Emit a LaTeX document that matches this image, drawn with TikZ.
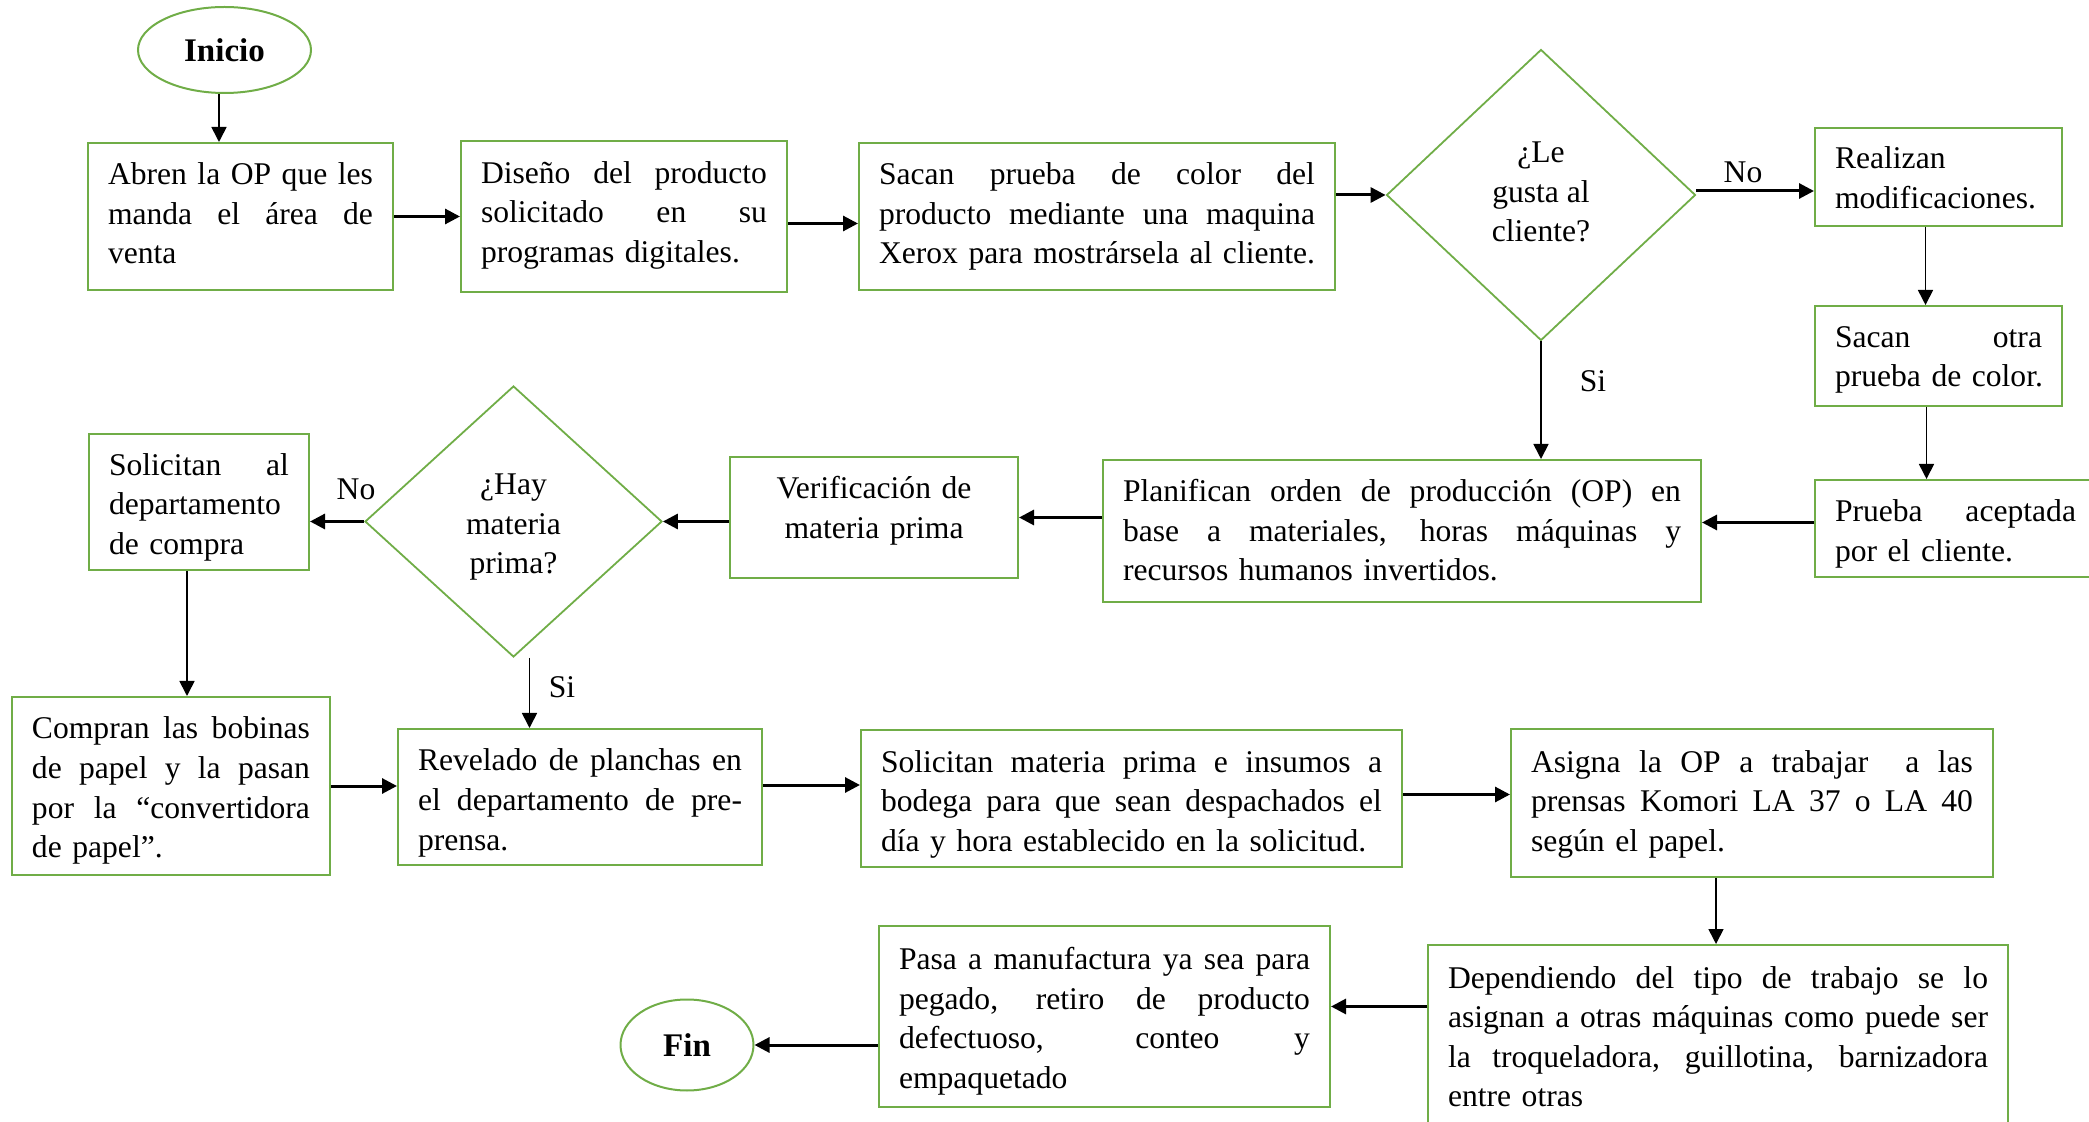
\documentclass[tikz,border=0pt]{standalone}
\usepackage{fontspec}
\setmainfont{Liberation Serif}
\usetikzlibrary{shapes.geometric,arrows.meta,calc}

\definecolor{flowgreen}{RGB}{112,173,71}
\newcommand\bodyfont{\fontsize{15.8pt}{19.8pt}\selectfont}
% one justified line of a box text
\newcommand\jline[1]{\makebox[\hsize][s]{\spaceskip=0pt\xspaceskip=0pt #1}}
% closing line of a box text, set flush left without breaking
\newcommand\lline[1]{\mbox{#1}}

\tikzset{
  box/.style={draw=flowgreen, line width=1pt, rectangle, inner xsep=10pt,
    inner ysep=0pt, font=\bodyfont},
  % vertical placement of the first text line inside a box
  textdrop/.style={text height=0pt, text depth=#1},
  decision/.style={draw=flowgreen, line width=0.9pt, diamond, inner sep=0pt,
    align=center, font=\bodyfont, text depth=0pt},
  terminal/.style={draw=flowgreen, line width=1pt, ellipse, inner sep=0pt,
    font=\fontsize{16.5pt}{20pt}\selectfont\bfseries},
  branch/.style={font=\bodyfont, inner sep=0pt},
  boldflow/.style={line width=1.5pt, -{Triangle[length=7.5pt,width=7.5pt]}},
  thinflow/.style={line width=0.85pt, -{Triangle[length=7.5pt,width=7.5pt]}},
}

\begin{document}
\begin{tikzpicture}[x=0.5pt,y=-0.5pt]
\useasboundingbox (0,0) rectangle (2089,1122);
\clip (0,0) rectangle (2089,1122);

% ---- first row
\node[terminal, minimum width=86.5pt, minimum height=43pt] (ini) at (224.5,50) {Inicio};

\node[box, textdrop=31.8pt, minimum width=152.5pt, text width=132.5pt, minimum height=73.5pt] (b1) at (240.5,216.5)
  {\jline{Abren la OP que les}\\\jline{manda el área de}\\\lline{venta}};
\node[box, textdrop=33.1pt, minimum width=163pt, text width=143pt, minimum height=75.5pt] (b2) at (624,216.5)
  {\jline{Diseño del producto}\\\jline{solicitado en su}\\\lline{programas digitales.}};
\node[box, textdrop=31.8pt, minimum width=238pt, text width=218pt, minimum height=73.5pt] (b3) at (1097,216.5)
  {\jline{Sacan prueba de color del}\\\jline{producto mediante una maquina}\\\lline{Xerox para mostrársela al cliente.}};

\node[decision, minimum width=154.5pt, minimum height=145.5pt, text height=47pt] (d1) at (1541,195)
  {¿Le\\gusta al\\cliente?};

\node[box, textdrop=8.3pt, minimum width=123.5pt, text width=103.5pt, minimum height=49pt] (real) at (1938.5,177)
  {\lline{Realizan}\\\lline{modificaciones.}};
\node[box, textdrop=8.8pt, minimum width=123.5pt, text width=103.5pt, minimum height=50pt] (otra) at (1938.5,356)
  {\jline{Sacan otra}\\\lline{prueba de color.}};
\node[box, textdrop=6.7pt, minimum width=140.5pt, text width=120.5pt, minimum height=48.5pt] (prueba) at (1955.5,528.5)
  {\jline{Prueba aceptada}\\\lline{por el cliente.}};

% ---- second row
\node[box, textdrop=29.2pt, minimum width=299pt, text width=279pt, minimum height=71pt] (plan) at (1402,531)
  {\jline{Planifican orden de producción (OP) en}\\\jline{base a materiales, horas máquinas y}\\\lline{recursos humanos invertidos.}};
\node[box, align=center, minimum width=144pt, text width=124pt, minimum height=60.5pt, text depth=30pt] (verif) at (874,517.5)
  {Verificación de\\materia prima};
\node[decision, minimum width=148.5pt, minimum height=135.5pt, text height=52.2pt] (d2) at (513.5,521.5)
  {¿Hay\\materia\\prima?};
\node[box, textdrop=26.9pt, minimum width=110pt, text width=90pt, minimum height=68pt] (sol) at (199,502)
  {\jline{Solicitan al}\\\lline{departamento}\\\lline{de compra}};

% ---- third row
\node[box, textdrop=47.1pt, minimum width=159pt, text width=139pt, minimum height=89pt] (comp) at (171,786)
  {\jline{Compran las bobinas}\\\jline{de papel y la pasan}\\\jline{por la “convertidora}\\\lline{de papel”.}};
\node[box, textdrop=26.1pt, minimum width=182pt, text width=162pt, minimum height=68pt] (rev) at (580,797)
  {\jline{Revelado de planchas en}\\\jline{el departamento de pre-}\\\lline{prensa.}};
\node[box, textdrop=26.3pt, minimum width=270.5pt, text width=250.5pt, minimum height=68.5pt] (solm) at (1131.5,798.5)
  {\jline{Solicitan materia prima e insumos a}\\\jline{bodega para que sean despachados el}\\\lline{día y hora establecido en la solicitud.}};
\node[box, textdrop=30.8pt, minimum width=241pt, text width=221pt, minimum height=74pt] (asig) at (1752,803)
  {\jline{Asigna la OP a trabajar\ \ a las}\\\jline{prensas Komori LA 37 o LA 40}\\\lline{según el papel.}};

% ---- last row
\node[box, textdrop=49.4pt, minimum width=290pt, text width=270pt, minimum height=92.5pt] (dep) at (1718,1037.5)
  {\jline{Dependiendo del tipo de trabajo se lo}\\\jline{asignan a otras máquinas como puede ser}\\\jline{la troqueladora, guillotina, barnizadora}\\\lline{entre otras}};
\node[box, textdrop=47.1pt, minimum width=225.5pt, text width=205.5pt, minimum height=90.5pt] (pasa) at (1104.5,1016.5)
  {\jline{Pasa a manufactura ya sea para}\\\jline{pegado, retiro de producto}\\\jline{defectuoso, conteo y}\\\lline{empaquetado}};
\node[terminal, minimum width=66.5pt, minimum height=45.5pt] (fin) at (687,1045) {Fin};

% ---- branch labels
\node[branch] (no1) at (1743,172) {No};
\node[branch] (si1) at (1593,381) {Si};
\node[branch] (no2) at (356,489) {No};
\node[branch] (si2) at (562,687) {Si};

% ---- helper points for offset connectors
\coordinate (pi) at ([xshift=-2.75pt]ini.south);
\coordinate (p2) at ([yshift=-3.5pt]b2.east);
\coordinate (pr) at ([xshift=-6.5pt]real.south);
\coordinate (po) at ([xshift=-6pt]otra.south);
\coordinate (ps) at ([xshift=-6pt]sol.south);
\coordinate (pd) at ([xshift=8pt]d2.south);
\coordinate (pv) at ([yshift=6pt]rev.east);
\coordinate (pa) at ([xshift=-18pt]asig.south);
\coordinate (pp) at ([yshift=5pt]pasa.east);

% ---- connectors
\draw[thinflow] (pi) -- (pi |- b1.north);
\draw[boldflow] (b1.east) -- (b2.west);
\draw[boldflow] (p2) -- (p2 -| b3.west);
\draw[boldflow] (b3.east |- d1.west) -- (d1.west);
\draw[boldflow] ([yshift=2pt]d1.east) -- ([yshift=2pt]d1.east -| real.west);
\draw[thinflow] (pr) -- (pr |- otra.north);
\draw[thinflow] (po) -- (po |- prueba.north);
\draw[thinflow] (d1.south) -- (d1.south |- plan.north);
\draw[boldflow] ([yshift=3pt]prueba.west) -- ([yshift=3pt]prueba.west -| plan.east);
\draw[boldflow] (verif.east -| plan.west) -- (verif.east);
\draw[boldflow] (verif.west |- d2.east) -- (d2.east);
\draw[boldflow] (d2.west) -- (d2.west -| sol.east);
\draw[thinflow] (ps) -- (ps |- comp.north);
\draw[thinflow] (pd) -- (pd |- rev.north);
\draw[boldflow] (comp.east) -- (comp.east -| rev.west);
\draw[boldflow] (pv) -- (pv -| solm.west);
\draw[boldflow] ([yshift=2pt]solm.east) -- ([yshift=2pt]solm.east -| asig.west);
\draw[thinflow] (pa) -- (pa |- dep.north);
\draw[boldflow] (pp -| dep.west) -- (pp);
\draw[boldflow] (fin.east -| pasa.west) -- (fin.east);
\end{tikzpicture}
\end{document}
